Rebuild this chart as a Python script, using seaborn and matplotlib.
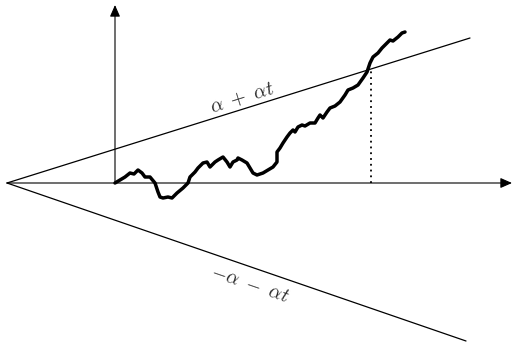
import numpy as np
import pandas as pd
import matplotlib
matplotlib.use("Agg")
import matplotlib.pyplot as plt
import seaborn as sns

# Sample path of the process W(t), starting at the origin
walk_t = [0, 5, 10, 15, 19, 23, 27, 30, 35, 40, 43, 45, 48, 53, 57, 62, 68, 73,
          75, 80, 83, 88, 92, 95, 100, 103, 108, 112, 115, 118, 122, 123, 127,
          132, 135, 138, 142, 148, 153, 158, 162, 162, 165, 168, 172, 175, 178,
          180, 183, 187, 190, 195, 200, 203, 205, 207, 208, 212, 215, 220, 225,
          230, 233, 238, 243, 248, 252, 255, 258, 263, 267, 272, 275, 278, 283,
          287, 290]
walk_w = [0, 3, 6, 10, 9, 13, 10, 6, 6, 0, -9, -14, -15, -14, -15, -10, -5, 0,
          6, 11, 15, 20, 21, 16, 21, 23, 26, 21, 16, 21, 23, 25, 23,
          20, 15, 10, 8, 10, 13, 16, 21, 31, 35, 40, 46, 50, 53,
          51, 56, 58, 57, 60, 60, 65, 68, 66, 65, 71, 75, 77, 81,
          88, 93, 95, 98, 105, 111, 120, 126, 130, 135, 140, 143, 142, 146,
          150, 151]

# Boundaries alpha + alpha*t and -alpha - alpha*t, meeting at t = -1 (scaled)
upper_t = [-108, 355]
upper_w = [0, 145]
lower_t = [-108, 351]
lower_w = [0, -158]

# Axis extents
t_axis = [-108, 397]
w_axis_top = 178

sns.set_theme(style="white")
plt.rcParams["mathtext.fontset"] = "cm"

fig = plt.figure(figsize=(5.22, 3.44), dpi=100)
ax = fig.add_axes([0, 0, 1, 1])
ax.set_xlim(-115, 407)
ax.set_ylim(-161, 183)
ax.axis("off")

line_kw = dict(color="black", linewidth=0.9, ax=ax, sort=False, estimator=None)
sns.lineplot(x=upper_t, y=upper_w, **line_kw)
sns.lineplot(x=lower_t, y=lower_w, **line_kw)

# Axes with arrowheads
arrow = dict(arrowstyle="-|>,head_length=0.5,head_width=0.22", color="black",
             linewidth=0.8, mutation_scale=14, shrinkA=0, shrinkB=0)
ax.annotate("", xy=(t_axis[1], 0), xytext=(t_axis[0], 0), arrowprops=arrow)
ax.annotate("", xy=(0, w_axis_top), xytext=(0, 0), arrowprops=arrow)

# The path
walk = pd.DataFrame({"t": walk_t, "w": walk_w})
sns.lineplot(data=walk, x="t", y="w", color="black", linewidth=2.5,
             sort=False, estimator=None, ax=ax,
             solid_joinstyle="round", solid_capstyle="round")

# First passage time: the path crosses the upper boundary
cross_t = 256
cross_w = np.interp(cross_t, upper_t, upper_w)
ax.plot([cross_t, cross_t], [0, cross_w], color="black", linewidth=1.3,
        linestyle=(0, (1, 2.2)))

ax.text(127, 85, r"$\alpha\ +\ \alpha t$", fontsize=14, rotation=17.4,
        ha="center", va="center")
ax.text(135, -101, r"$-\alpha\ -\ \alpha t$", fontsize=14, rotation=-19,
        ha="center", va="center")

fig.savefig("out.png", dpi=100)
